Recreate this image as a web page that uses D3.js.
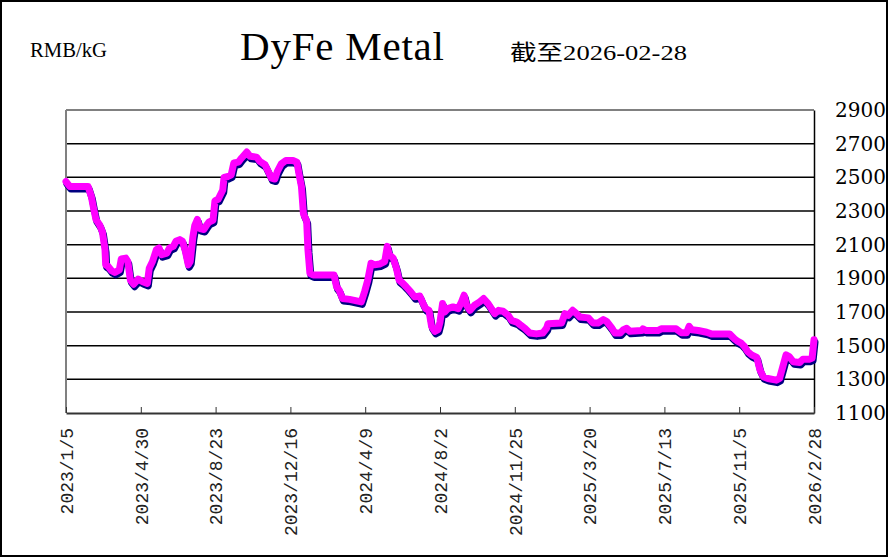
<!DOCTYPE html>
<html>
<head>
<meta charset="utf-8">
<script src="https://cdn.jsdelivr.net/npm/d3@7"></script>
<style>
  html, body { margin: 0; padding: 0; background: #fff; }
  svg { display: block; }
</style>
</head>
<body>
<div id="chart"></div>
<script>
// price series
const dates = [
  '2023-01-05','2023-01-11','2023-02-08','2023-02-13','2023-02-16','2023-02-20','2023-02-26','2023-03-02',
  '2023-03-06','2023-03-07','2023-03-11','2023-03-16','2023-03-21','2023-03-28','2023-03-31','2023-04-07',
  '2023-04-10','2023-04-14','2023-04-19','2023-04-26','2023-05-03','2023-05-10','2023-05-13','2023-05-18',
  '2023-05-24','2023-05-28','2023-06-01','2023-06-09','2023-06-13','2023-06-19','2023-06-23','2023-06-29',
  '2023-07-03','2023-07-07','2023-07-12','2023-07-15','2023-07-19','2023-07-22','2023-07-26','2023-07-30',
  '2023-08-05','2023-08-09','2023-08-13','2023-08-19','2023-08-22','2023-08-27','2023-09-03','2023-09-05',
  '2023-09-11','2023-09-16','2023-09-20','2023-09-27','2023-10-02','2023-10-10','2023-10-15','2023-10-25',
  '2023-10-30','2023-11-07','2023-11-12','2023-11-17','2023-11-22','2023-11-26','2023-12-02','2023-12-09',
  '2023-12-20','2023-12-26','2023-12-29','2024-01-02','2024-01-05','2024-01-10','2024-01-12','2024-01-15',
  '2024-01-20','2024-02-21','2024-02-25','2024-02-29','2024-03-05','2024-03-16','2024-04-03','2024-04-08',
  '2024-04-13','2024-04-18','2024-04-23','2024-05-01','2024-05-09','2024-05-13','2024-05-16','2024-05-22',
  '2024-05-27','2024-05-31','2024-06-06','2024-06-11','2024-06-18','2024-06-24','2024-07-02','2024-07-07',
  '2024-07-11','2024-07-16','2024-07-20','2024-07-25','2024-07-30','2024-08-02','2024-08-06','2024-08-09',
  '2024-08-14','2024-08-22','2024-08-30','2024-09-04','2024-09-08','2024-09-12','2024-09-17','2024-09-24',
  '2024-10-02','2024-10-08','2024-10-15','2024-10-20','2024-10-25','2024-10-31','2024-11-07','2024-11-15',
  '2024-11-20','2024-11-28','2024-12-03','2024-12-10','2024-12-18','2024-12-28','2025-01-07','2025-01-13',
  '2025-01-15','2025-02-05','2025-02-10','2025-02-15','2025-02-22','2025-02-28','2025-03-05','2025-03-18',
  '2025-03-25','2025-04-02','2025-04-10','2025-04-15','2025-04-23','2025-04-28','2025-05-06','2025-05-11',
  '2025-05-16','2025-05-21','2025-06-08','2025-06-10','2025-06-15','2025-07-03','2025-07-08','2025-07-31',
  '2025-08-08','2025-08-16','2025-08-20','2025-08-24','2025-09-03','2025-09-16','2025-09-23','2025-10-21',
  '2025-10-29','2025-11-03','2025-11-08','2025-11-13','2025-11-18','2025-11-24','2025-12-02','2025-12-07',
  '2025-12-12','2025-12-19','2026-01-01','2026-01-06','2026-01-11','2026-01-16','2026-01-21','2026-01-27',
  '2026-02-06','2026-02-11','2026-02-21','2026-02-25','2026-02-28'
]
const prices = [
  2475,2445,2445,2385,2325,2250,2215,2175,
  2070,1980,1970,1945,1935,1950,2015,2020,
  2000,1890,1865,1895,1880,1870,1960,2000,
  2070,2080,2040,2050,2080,2090,2120,2130,
  2120,2070,1980,2000,2145,2215,2250,2195,
  2190,2215,2235,2245,2360,2370,2425,2500,
  2505,2515,2585,2590,2615,2650,2625,2620,
  2595,2575,2535,2495,2490,2535,2580,2600,
  2600,2590,2525,2445,2285,2240,2070,1930,
  1920,1920,1850,1830,1780,1775,1760,1820,
  1890,1990,1980,1985,2000,2090,2040,2020,
  1960,1890,1870,1850,1820,1790,1795,1750,
  1720,1710,1615,1585,1595,1640,1750,1700,
  1720,1730,1720,1760,1800,1740,1710,1740,
  1760,1780,1750,1720,1690,1710,1705,1680,
  1650,1640,1625,1605,1575,1570,1575,1605,
  1630,1635,1690,1680,1710,1690,1670,1665,
  1635,1635,1655,1645,1605,1575,1575,1595,
  1603,1585,1590,1600,1590,1590,1600,1600,
  1577,1577,1615,1595,1590,1580,1570,1570,
  1540,1525,1515,1495,1465,1445,1430,1355,
  1315,1305,1295,1305,1375,1445,1435,1405,
  1400,1420,1420,1425,1535
]
const xTickLabels = ['2023/1/5','2023/4/30','2023/8/23','2023/12/16','2024/4/9','2024/8/2',
                     '2024/11/25','2025/3/20','2025/7/13','2025/11/5','2026/2/28']
const yTicks = [1100,1300,1500,1700,1900,2100,2300,2500,2700,2900]

const W = 889, H = 558,
      m = { l: 66, r: 814, t: 110, b: 413 }

let parse = d3.timeParse('%Y-%m-%d'),
    parseTick = d3.timeParse('%Y/%m/%d'),
    data = dates.map((d, i) => ({ d: parse(d), v: prices[i] })),
    tickDates = xTickLabels.map(parseTick)

let x = d3.scaleTime()
          .domain([tickDates[0], tickDates[tickDates.length - 1]])
          .range([m.l, m.r]),
    y = d3.scaleLinear()
          .domain([1100, 2900])
          .range([m.b, m.t])

let svg = d3.select('#chart').append('svg')
      .attr('width', W)
      .attr('height', H)
      .attr('viewBox', `0 0 ${W} ${H}`)

// outer frame
svg.append('rect')
  .attr('x', 1).attr('y', 1)
  .attr('width', 886).attr('height', 555)
  .attr('fill', '#fff')
  .attr('stroke', '#000')
  .attr('stroke-width', 2)

// titles (mincho-ish serif, squeezed to the original widths)
svg.append('text')
  .attr('x', 30).attr('y', 57)
  .attr('font-family', 'Liberation Serif, serif')
  .attr('font-size', 21)
  .attr('textLength', 77)
  .attr('lengthAdjust', 'spacingAndGlyphs')
  .text('RMB/kG')

svg.append('text')
  .attr('x', 240).attr('y', 60)
  .attr('font-family', 'Liberation Serif, serif')
  .attr('font-size', 41)
  .attr('textLength', 204)
  .attr('lengthAdjust', 'spacing')
  .text('DyFe Metal')

svg.append('text')
  .attr('x', 510).attr('y', 60)
  .attr('font-family', 'Liberation Serif, Noto Sans CJK SC, serif')
  .attr('font-size', 22)
  .attr('textLength', 177)
  .attr('lengthAdjust', 'spacingAndGlyphs')
  .text('截至2026-02-28')

// gridlines (skip the top one, frame covers it)
svg.append('g')
  .selectAll('line')
  .data(yTicks.filter(t => t > 1100 && t < 2900))
  .join('line')
    .attr('x1', m.l).attr('x2', m.r)
    .attr('y1', d => y(d)).attr('y2', d => y(d))
    .attr('stroke', '#000')
    .attr('stroke-width', 1.5)

// plot frame: top + left grey, right black
svg.append('line')
  .attr('x1', m.l).attr('x2', m.r)
  .attr('y1', m.t).attr('y2', m.t)
  .attr('stroke', '#808080').attr('stroke-width', 2)
svg.append('line')
  .attr('x1', m.l).attr('x2', m.l)
  .attr('y1', m.t).attr('y2', m.b)
  .attr('stroke', '#808080').attr('stroke-width', 2)

// right y axis
let ya = svg.append('g')
  .attr('transform', `translate(${m.r},0)`)
  .call(d3.axisRight(y).tickValues(yTicks).tickSize(0).tickPadding(21).tickFormat(d3.format('d')))
ya.select('.domain').attr('stroke', '#000').attr('stroke-width', 1.5)
ya.selectAll('text')
  .attr('font-family', 'DejaVu Serif, serif')
  .attr('font-size', 20)
  .attr('fill', '#000')

// bottom x axis, ticks pointing up
let xa = svg.append('g')
  .attr('transform', `translate(0,${m.b})`)
  .call(d3.axisBottom(x).tickValues(tickDates).tickSizeInner(-6).tickSizeOuter(0)
          .tickFormat((d, i) => xTickLabels[i]))
xa.select('.domain').attr('stroke', '#333').attr('stroke-width', 2)
xa.selectAll('.tick line').attr('stroke', '#333')
xa.selectAll('text')
  .attr('font-family', 'Liberation Mono, monospace')
  .attr('font-size', 18)
  .attr('fill', '#222')
  .attr('text-anchor', 'end')
  .attr('transform', 'rotate(-90)')
  .attr('x', -15)
  .attr('y', 0)
  .attr('dy', '0.35em')

// the series: navy shadow under magenta
let line = d3.line().x(d => x(d.d)).y(d => y(d.v))

svg.append('path')
  .datum(data)
  .attr('d', line)
  .attr('transform', 'translate(1,2.5)')
  .attr('fill', 'none')
  .attr('stroke', '#000080')
  .attr('stroke-width', 7)
  .attr('stroke-linejoin', 'round')
  .attr('stroke-linecap', 'round')

svg.append('path')
  .datum(data)
  .attr('d', line)
  .attr('fill', 'none')
  .attr('stroke', '#ff00ff')
  .attr('stroke-width', 7)
  .attr('stroke-linejoin', 'round')
  .attr('stroke-linecap', 'round')
</script>
</body>
</html>
